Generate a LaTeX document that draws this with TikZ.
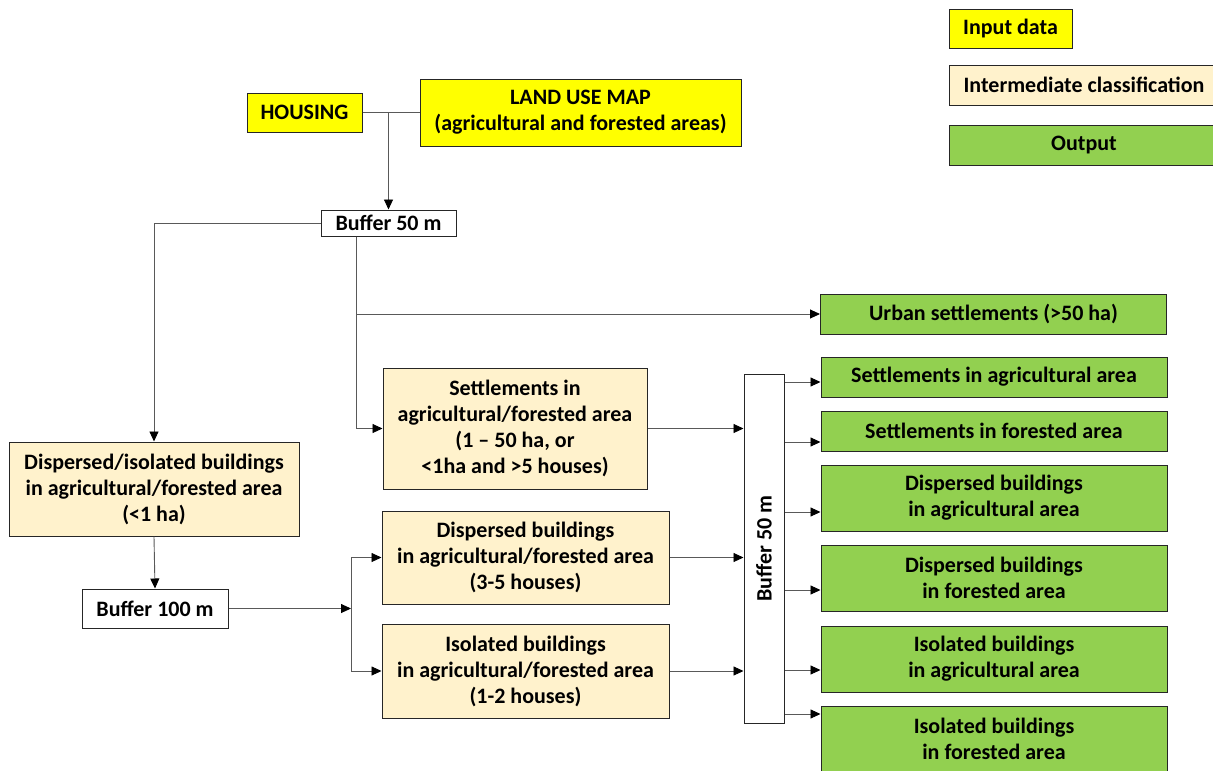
\documentclass[tikz,border=0pt]{standalone}
\usepackage{fontspec}
\setmainfont{Carlito}
\usetikzlibrary{positioning,arrows.meta}
\definecolor{inputYellow}{HTML}{FFFF00}
\definecolor{interTan}{HTML}{FFF2CC}
\definecolor{outGreen}{HTML}{92D050}
\tikzset{
  box/.style={rectangle, draw=black!85, line width=1pt, inner sep=2pt, align=center},
  inputData/.style={box, fill=inputYellow},
  interClass/.style={box, fill=interTan},
  outBox/.style={box, fill=outGreen, minimum width=346pt},
%  wideBox/.style={box, fill=interTan, minimum width=290pt},
  bufferBox/.style={box, fill=white},
  flowLine/.style={draw=black!65, line width=0.9pt},
  flowArrow/.style={flowLine, -{Triangle[length=10pt, width=9pt, color=black]}}
}

\begin{document}
\begin{tikzpicture}[x=1pt, y=-1pt, font={\bfseries\fontsize{22}{26}\selectfont}]
  \useasboundingbox (0,0) rectangle (1213,771);
  % legend
  \node [inputData, minimum width=123pt, minimum height=39pt] (legIn) at (1010.5,28.5) {Input data};
  \node [interClass, minimum width=270pt, minimum height=40pt, below=16pt of legIn.south west, anchor=north west] (legMid) {Intermediate classification};
  \node [outBox, minimum width=270pt, minimum height=40pt, below=19pt of legMid.south west, anchor=north west] (legOut) {Output};
  % inputs
  \node [inputData, minimum width=115pt, minimum height=39pt] (housing) at (304.5,112.5) {HOUSING};
  \node [inputData, minimum width=321pt, minimum height=67pt] (landUse) at (580.5,112.5) {LAND USE MAP\\(agricultural and forested areas)};
  \node [bufferBox, minimum width=135pt, minimum height=26pt, inner sep=0pt] (buf50) at (388.5,223) {Buffer 50 m};
  % intermediate classes
  \node [interClass, minimum width=264pt, minimum height=121pt] (settle) at (515,428.5) {Settlements in\\agricultural/forested area\\(1 -- 50 ha, or\\<1ha and >5 houses)};
  \node [interClass, minimum width=290pt, minimum height=94pt] (dispIso) at (154,489) {Dispersed/isolated buildings\\in agricultural/forested area\\(<1 ha)};
  \node [bufferBox, minimum width=146pt, minimum height=39pt] (buf100) at (155,608.5) {Buffer 100 m};
  \node [interClass, minimum width=287pt, minimum height=93pt] (dispB) at (525.5,557.5) {Dispersed buildings\\in agricultural/forested area\\(3-5 houses)};
  \node [interClass, minimum width=287pt, minimum height=94pt] (isoB) at (525.5,671) {Isolated buildings\\in agricultural/forested area\\(1-2 houses)};
  \node [bufferBox, minimum width=40pt, minimum height=349pt] (bufV) at (764,548.5) {\rotatebox{90}{Buffer 50 m}};
  % outputs
  \node [outBox, minimum height=40pt] (urban) at (993.5,314) {Urban settlements (>50 ha)};
  \node [outBox, minimum height=40pt] (gSetAgr) at (994,377) {Settlements in agricultural area};
  \node [outBox, minimum height=40pt] (gSetFor) at (994,431) {Settlements in forested area};
  \node [outBox, minimum height=66pt] (gDispAgr) at (994,498) {Dispersed buildings\\in agricultural area};
  \node [outBox, minimum height=66pt] (gDispFor) at (994,578) {Dispersed buildings\\in forested area};
  \node [outBox, minimum height=66pt] (gIsoAgr) at (994,659) {Isolated buildings\\in agricultural area};
  \node [outBox, minimum height=66pt] (gIsoFor) at (994,739) {Isolated buildings\\in forested area};

  % connectors
  \draw [flowLine] (housing.east) -- (landUse.west);
  \draw [flowArrow] (housing.east -| buf50.north) -- (buf50.north);
  \draw [flowArrow] (buf50.west) -| (dispIso.north);
  \draw [flowArrow] (buf50.south -| 356,0) |- (urban.west);
  \draw [flowArrow] (buf50.south -| 356,0) |- (settle.west);
  \draw [flowArrow] (dispIso.south) -- (buf100.north);
  \draw [flowArrow] (buf100.east) -- (buf100.east -| 351,0);
  \draw [flowArrow] (buf100.east -| 351,0) |- (dispB.west);
  \draw [flowArrow] (buf100.east -| 351,0) |- (isoB.west);
  \draw [flowArrow] (settle.east) -- (settle.east -| bufV.west);
  \draw [flowArrow] (dispB.east) -- (dispB.east -| bufV.west);
  \draw [flowArrow] (isoB.east) -- (isoB.east -| bufV.west);
  \foreach \n/\y in {gSetAgr/382, gSetFor/442, gDispAgr/512, gDispFor/590, gIsoAgr/670, gIsoFor/714}
    \draw [flowArrow] (bufV.east |- 0,\y) -- (\n.west |- 0,\y);
\end{tikzpicture}
\end{document}
